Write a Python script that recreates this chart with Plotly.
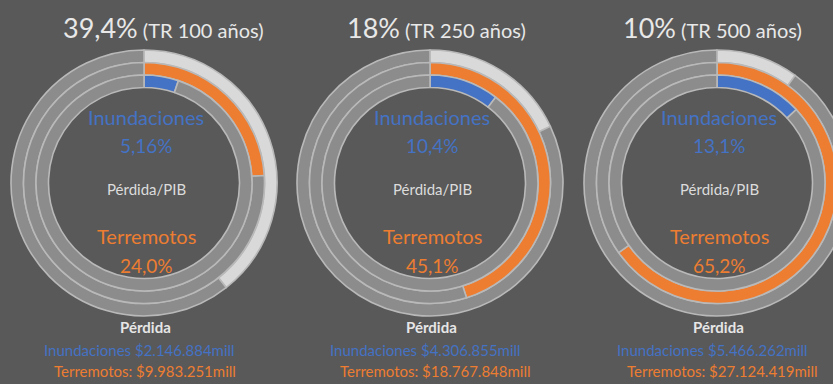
import plotly.graph_objects as go

# ---- data ----
return_periods = [100, 250, 500]
prob_pct = [39.4, 18, 10]            # probability (light grey outer ring)
inund_pct = [5.16, 10.4, 13.1]       # Inundaciones loss/PIB (blue inner ring)
terr_pct = [24.0, 45.1, 65.2]        # Terremotos loss/PIB (orange middle ring)
inund_loss = [2146884, 4306855, 5466262]     # mill
terr_loss = [9983251, 18767848, 27124419]    # mill

# ---- style / layout ----
W, H = 860, 384
BG = "#595959"
GREY = "#8c8c8c"
EDGE = "#b9b9b9"
LIGHT = "#d9d9d9"
ORANGE = "#ED7D31"
BLUE = "#4472C4"
FONT = "Lato"

centers = [(144, 183), (430, 183), (717, 183)]
title_x = [163, 437, 712]
radii = [133, 120.5, 108, 95.5]


def px(x):
    return x / W


def py(y):
    return 1 - y / H


def pct_label(v):
    return f"{v:#.3g}".replace(".", ",") + "%"


def money(v):
    return "$" + f"{v:,}".replace(",", ".") + "mill"


fig = go.Figure()
ann = []
for i, (cx, cy) in enumerate(centers):
    rings = [(prob_pct[i], LIGHT), (terr_pct[i], ORANGE), (inund_pct[i], BLUE)]
    for k, (val, col) in enumerate(rings):
        R = radii[k]
        r_in = radii[k + 1]
        fig.add_trace(go.Pie(
            values=[val, 100 - val],
            marker=dict(colors=[col, GREY], line=dict(color=EDGE, width=1.6)),
            hole=r_in / R,
            sort=False,
            direction="clockwise",
            rotation=0,
            textinfo="none",
            hoverinfo="skip",
            showlegend=False,
            domain=dict(x=[px(cx - R), px(cx + R)], y=[py(cy + R), py(cy - R)]),
        ))

    ann.append(dict(x=px(title_x[i]), y=py(28),
                    text=f"<span style='font-size:27px'>{prob_pct[i]:g}".replace(".", ",")
                    + f"%</span> (TR {return_periods[i]} años)",
                    font=dict(size=20, color="#e8e8e8", family=FONT)))
    ann.append(dict(x=px(cx + 2), y=py(117), text="Inundaciones",
                    font=dict(size=20, color=BLUE, family=FONT)))
    ann.append(dict(x=px(cx + 2), y=py(145), text=pct_label(inund_pct[i]),
                    font=dict(size=19, color=BLUE, family=FONT)))
    ann.append(dict(x=px(cx + 2), y=py(189), text="Pérdida/PIB",
                    font=dict(size=15, color="#dcdcdc", family=FONT)))
    ann.append(dict(x=px(cx + 2), y=py(236), text="Terremotos",
                    font=dict(size=20, color=ORANGE, family=FONT)))
    ann.append(dict(x=px(cx + 2), y=py(265), text=pct_label(terr_pct[i]),
                    font=dict(size=19, color=ORANGE, family=FONT)))
    ann.append(dict(x=px(cx + 1), y=py(327), text="<b>Pérdida</b>",
                    font=dict(size=15, color="#e6e6e6", family=FONT)))
    ann.append(dict(x=px(cx - 102), y=py(350), xanchor="left",
                    text="Inundaciones " + money(inund_loss[i]),
                    font=dict(size=15, color=BLUE, family=FONT)))
    ann.append(dict(x=px(cx - 92), y=py(371), xanchor="left",
                    text="Terremotos: " + money(terr_loss[i]),
                    font=dict(size=15, color=ORANGE, family=FONT)))

for a in ann:
    a.setdefault("xanchor", "center")
    a.update(xref="paper", yref="paper", yanchor="middle", showarrow=False)

fig.update_layout(
    width=W, height=H,
    margin=dict(l=0, r=0, t=0, b=0),
    paper_bgcolor=BG, plot_bgcolor=BG,
    annotations=ann,
    showlegend=False,
)

# the third ring runs past the right edge of the window, as in the reference;
# remove the page margin and hide the overflow so no scrollbar is drawn
fig.write_html(
    "out.html",
    config={"displayModeBar": False},
    post_script="document.body.style.margin='0';document.body.style.overflow='hidden';",
)
